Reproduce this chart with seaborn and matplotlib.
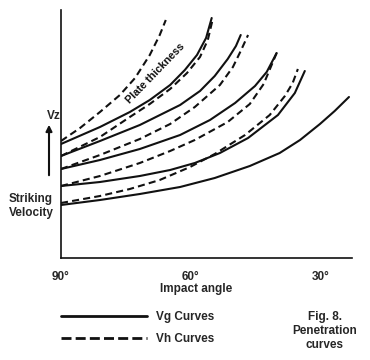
import matplotlib
matplotlib.use("Agg")
import matplotlib.pyplot as plt
from matplotlib.lines import Line2D
import seaborn as sns
import pandas as pd

# ---- data (impact angle in degrees, striking velocity in arbitrary units)
vg1_angle = [90, 81.0, 74.1, 69.5, 64.8, 61.4, 58.6, 56.5, 55.2]
vg1_vel = [114, 131, 146, 158, 173, 188, 203, 220, 240]
vh1_angle = [90, 85.6, 81.0, 76.4, 72.9, 69.5, 67.2, 65.8]
vh1_vel = [117, 130, 146, 163, 180, 203, 223, 238]

vg2_angle = [90, 81.0, 71.8, 62.5, 57.9, 54.5, 51.5, 49.6, 48.5]
vg2_vel = [102, 117, 133, 153, 167, 182, 199, 212, 223]
vh2_angle = [90, 81.0, 74.1, 69.5, 64.8, 60.9, 57.9, 56.1, 54.9]
vh2_vel = [102, 121, 141, 154, 169, 185, 201, 218, 240]

vg3_angle = [90, 81.0, 71.8, 62.5, 55.6, 49.8, 45.2, 42.5, 40.2]
vg3_vel = [89, 98, 109, 123, 138, 155, 172, 186, 205]
vh3_angle = [90, 81.0, 71.8, 64.8, 59.1, 53.3, 50.3, 48.5, 46.8]
vh3_vel = [89, 103, 119, 134, 151, 173, 191, 207, 223]

vg4_angle = [90, 81.0, 71.8, 64.8, 59.1, 53.3, 46.8, 39.9, 36.0, 33.7]
vg4_vel = [72, 76, 82, 88, 95, 105, 120, 143, 165, 187]
vh4_angle = [90, 81.0, 71.8, 64.8, 59.1, 51.5, 46.4, 43.2, 40.2]
vh4_vel = [72, 82, 95, 107, 118, 136, 154, 174, 205]

vg5_angle = [90, 81.0, 71.8, 62.5, 54.5, 46.4, 39.5, 34.8, 30.2, 26.8, 23.5]
vg5_vel = [53, 58, 64, 71, 80, 92, 105, 118, 134, 147, 161]
vh5_angle = [90, 81.0, 74.1, 67.2, 60.2, 54.5, 47.5, 41.8, 38.3, 36.5, 35.3]
vh5_vel = [55, 62, 69, 78, 91, 104, 123, 143, 162, 175, 189]

tick_angles = [90, 60, 30]
tick_labels = ["90°", "60°", "30°"]
legend_labels = ["Vg Curves", "Vh Curves"]

curves = [
    ("Vg", 1, vg1_angle, vg1_vel), ("Vh", 1, vh1_angle, vh1_vel),
    ("Vg", 2, vg2_angle, vg2_vel), ("Vh", 2, vh2_angle, vh2_vel),
    ("Vg", 3, vg3_angle, vg3_vel), ("Vh", 3, vh3_angle, vh3_vel),
    ("Vg", 4, vg4_angle, vg4_vel), ("Vh", 4, vh4_angle, vh4_vel),
    ("Vg", 5, vg5_angle, vg5_vel), ("Vh", 5, vh5_angle, vh5_vel),
]
rows = []
for kind, lvl, xs, ys in curves:
    for i, (a, v) in enumerate(zip(xs, ys)):
        rows.append({"kind": kind, "curve": f"{kind}{lvl}", "order": i, "angle": a, "velocity": v})
df = pd.DataFrame(rows)

sns.set_style("white")
plt.rcParams["font.family"] = ["Liberation Sans", "DejaVu Sans"]
plt.rcParams["font.weight"] = "bold"

FS = 8.5
fig = plt.figure(figsize=(3.7, 3.6), dpi=100)
ax = fig.add_axes([61 / 370, 1 - 258 / 360, (352 - 61) / 370, (258 - 10) / 360])

INK = "#111111"
for name, sub in df.groupby("curve", sort=False):
    kind = sub["kind"].iloc[0]
    sub = sub.sort_values("order")
    sns.lineplot(data=sub, x="angle", y="velocity", sort=False, estimator=None,
                 color=INK, lw=1.5, ax=ax, legend=False)
    ln = ax.lines[-1]
    ln.set_solid_joinstyle("round")
    if kind == "Vh":
        ln.set_dashes((3.4, 2.0))

ax.set_xlim(90, 22.8)
ax.set_ylim(0, 248)
ax.set_xticks(tick_angles)
ax.set_xticklabels(tick_labels, fontsize=FS, fontweight="bold")
ax.set_yticks([])
ax.tick_params(axis="x", direction="inout", length=6, width=1.2, pad=6.5, color=INK)
ax.set_xlabel("Impact angle", fontsize=FS, fontweight="bold")
ax.xaxis.set_label_coords((196 - 61) / 291, -(289 - 258) / 248)
ax.xaxis.label.set_va("center")
ax.set_ylabel("")
for s in ["top", "right"]:
    ax.spines[s].set_visible(False)
for s in ["left", "bottom"]:
    ax.spines[s].set_color(INK)
    ax.spines[s].set_linewidth(1.2)

ax.text(0.325, 0.745, "Plate thickness", transform=ax.transAxes, rotation=46,
        fontsize=7.8, fontweight="bold", ha="center", va="center", color=INK)

fig.text(54 / 370, 1 - 116 / 360, "Vz", fontsize=FS, fontweight="bold", ha="center", va="center")
ax.annotate("", xy=(49 / 370, 1 - 122 / 360), xytext=(49 / 370, 1 - 178 / 360),
            xycoords="figure fraction", textcoords="figure fraction",
            arrowprops=dict(arrowstyle="-|>", color=INK, lw=1.5, mutation_scale=9))
fig.text(31 / 370, 1 - 206 / 360, "Striking\nVelocity", fontsize=FS, fontweight="bold",
         ha="center", va="center", linespacing=1.2)
fig.text(325 / 370, 1 - 331 / 360, "Fig. 8.\nPenetration\ncurves", fontsize=FS,
         fontweight="bold", ha="center", va="center", linespacing=1.25)

handles = [Line2D([], [], color=INK, lw=2.0, ls="-"),
           Line2D([], [], color=INK, lw=2.0, ls=(0, (3.6, 1.5)))]
ax.legend(handles, legend_labels, loc="upper left", bbox_to_anchor=(61 / 370, 1 - 311 / 360),
          bbox_transform=fig.transFigure, frameon=False, handlelength=7.3,
          handletextpad=0.75, labelspacing=0.85, borderpad=0, borderaxespad=0,
          prop={"weight": "bold", "size": FS})

fig.savefig("out.png", dpi=100)
